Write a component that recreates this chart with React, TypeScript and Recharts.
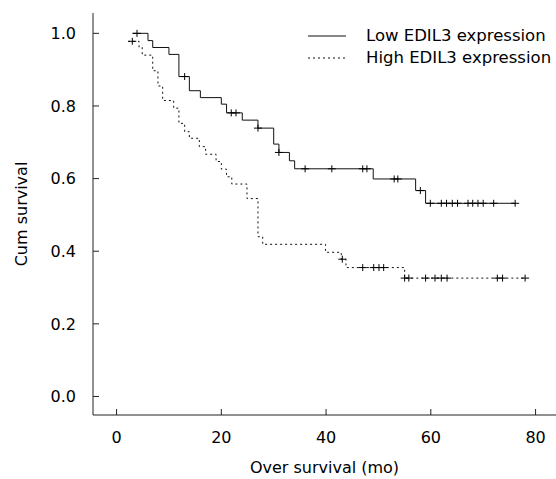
import React from 'react';
import { ComposedChart, Line, Scatter, XAxis, YAxis, Label } from 'recharts';

// Low EDIL3 expression: step points (time in months, cumulative survival)
const lowTimes = [3.0, 6.0, 6.9, 10.0, 11.9, 13.9, 16.0, 20.0, 21.0, 24.0, 27.0, 30.0, 31.0, 33.0, 34.0, 49.0, 57.1, 59.0, 76.1];
const lowSurv = [1.0, 0.98, 0.961, 0.942, 0.881, 0.842, 0.823, 0.805, 0.781, 0.761, 0.739, 0.695, 0.672, 0.649, 0.627, 0.599, 0.567, 0.532, 0.532];
const lowCensorTimes = [3.9, 13.0, 21.9, 22.8, 27.0, 31.0, 36.0, 41.1, 47.0, 47.8, 53.0, 53.7, 58.0, 59.9, 62.0, 63.0, 64.1, 65.1, 67.1, 68.0, 69.0, 70.0, 72.0, 76.1];
const lowCensorSurv = [1.0, 0.881, 0.781, 0.781, 0.739, 0.672, 0.627, 0.627, 0.627, 0.627, 0.599, 0.599, 0.567, 0.532, 0.532, 0.532, 0.532, 0.532, 0.532, 0.532, 0.532, 0.532, 0.532, 0.532];

// High EDIL3 expression
const highTimes = [2.2, 4.3, 4.9, 6.9, 7.9, 8.8, 10.9, 11.9, 13.0, 13.9, 15.8, 17.0, 19.0, 20.0, 21.0, 22.0, 24.9, 27.0, 27.9, 39.9, 42.9, 43.8, 55.0, 78.0];
const highSurv = [0.978, 0.961, 0.94, 0.897, 0.855, 0.815, 0.794, 0.752, 0.729, 0.711, 0.688, 0.667, 0.647, 0.626, 0.605, 0.585, 0.545, 0.44, 0.419, 0.397, 0.378, 0.355, 0.326, 0.326];
const highCensorTimes = [3.0, 43.1, 47.0, 49.1, 50.1, 51.0, 55.0, 55.8, 59.0, 60.8, 62.0, 63.1, 72.7, 73.7, 78.0];
const highCensorSurv = [0.978, 0.378, 0.355, 0.355, 0.355, 0.355, 0.326, 0.326, 0.326, 0.326, 0.326, 0.326, 0.326, 0.326, 0.326];

const xTicks = [0, 20, 40, 60, 80];
const yTicks = [0, 0.2, 0.4, 0.6, 0.8, 1.0];

const seriesNames = ['Low EDIL3 expression', 'High EDIL3 expression'];

const zip = (ts: number[], ss: number[]) => ts.map((t, i) => ({ t, s: ss[i] }));

const lowData = zip(lowTimes, lowSurv);
const lowCensor = zip(lowCensorTimes, lowCensorSurv);
const highData = zip(highTimes, highSurv);
const highCensor = zip(highCensorTimes, highCensorSurv);

const FONT = '"DejaVu Sans", Verdana, sans-serif';

const Plus = (props: any) => {
  const { cx, cy } = props;
  if (cx == null || cy == null) return null;
  return (
    <g>
      <line x1={cx - 4} x2={cx + 4} y1={cy} y2={cy} stroke="#000" strokeWidth={1} />
      <line x1={cx} x2={cx} y1={cy - 3.5} y2={cy + 3.5} stroke="#000" strokeWidth={1} />
    </g>
  );
};

export default function App() {
  return (
    <div style={{ position: 'absolute', left: 0, top: 0, width: 556, height: 479, background: '#fff', fontFamily: FONT, overflow: 'hidden' }}>
      <ComposedChart
        width={556}
        height={479}
        margin={{ top: 13, right: 0, bottom: 0, left: 0 }}
        style={{ fontFamily: FONT }}
      >
        <XAxis
          type="number"
          dataKey="t"
          domain={[-4.5, 83.9]}
          ticks={xTicks}
          allowDataOverflow
          height={64}
          stroke="#222"
          tickSize={-6}
          tickMargin={23}
          tick={{ fontSize: 16, fill: '#000', fontFamily: FONT }}
        >
          <Label value="Over survival (mo)" position="insideBottom" offset={6} style={{ fontSize: 16, fill: '#000', fontFamily: FONT }} />
        </XAxis>
        <YAxis
          type="number"
          dataKey="s"
          domain={[-0.051, 1.056]}
          ticks={yTicks}
          allowDataOverflow
          width={93}
          stroke="#222"
          tickSize={-6}
          tickMargin={23}
          tickFormatter={(v: number) => v.toFixed(1)}
          tick={{ fontSize: 16, fill: '#000', fontFamily: FONT }}
        >
          <Label value="Cum survival" angle={-90} position="insideLeft" offset={21} style={{ fontSize: 16, fill: '#000', fontFamily: FONT, textAnchor: 'middle' }} />
        </YAxis>
        <Line data={lowData} dataKey="s" type="stepAfter" stroke="#111" strokeWidth={1} dot={false} activeDot={false} isAnimationActive={false} name={seriesNames[0]} />
        <Line data={highData} dataKey="s" type="stepAfter" stroke="#111" strokeWidth={1} strokeDasharray="2 3" dot={false} activeDot={false} isAnimationActive={false} name={seriesNames[1]} />
        <Scatter data={lowCensor} dataKey="s" shape={Plus} isAnimationActive={false} />
        <Scatter data={highCensor} dataKey="s" shape={Plus} isAnimationActive={false} />
      </ComposedChart>
      <div style={{ position: 'absolute', left: 306, top: 25, width: 260, whiteSpace: 'nowrap', fontSize: 16.5, color: '#000', fontFamily: FONT, lineHeight: '22px' }}>
        <div style={{ display: 'flex', alignItems: 'center', height: 22 }}>
          <svg width={40} height={10} style={{ marginRight: 20, flexShrink: 0 }}>
            <line x1={2} x2={40} y1={5} y2={5} stroke="#111" strokeWidth={1} />
          </svg>
          <span>{seriesNames[0]}</span>
        </div>
        <div style={{ display: 'flex', alignItems: 'center', height: 22 }}>
          <svg width={40} height={10} style={{ marginRight: 20, flexShrink: 0 }}>
            <line x1={2} x2={40} y1={5} y2={5} stroke="#111" strokeWidth={1} strokeDasharray="2 3" />
          </svg>
          <span>{seriesNames[1]}</span>
        </div>
      </div>
    </div>
  );
}
